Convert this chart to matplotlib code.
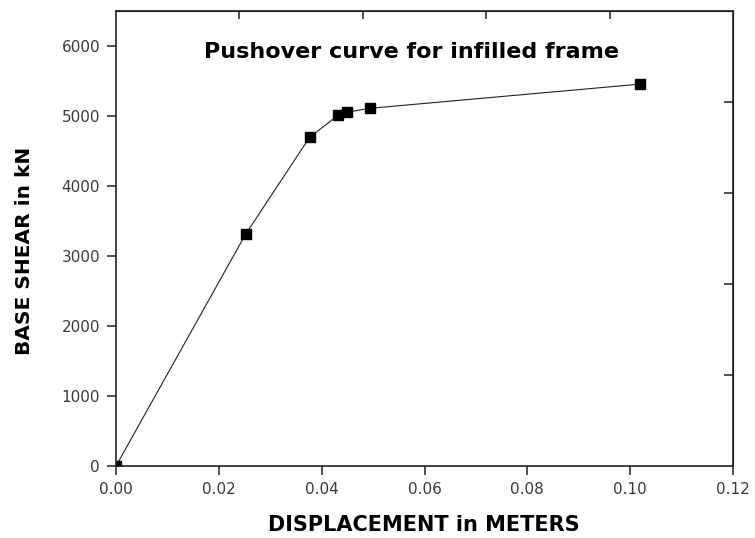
import numpy as np
import matplotlib.pyplot as plt

plt.rcParams['font.family'] = ['DejaVu Sans']

# pushover points: roof displacement (m) vs base shear (kN)
desplazamiento = [0.0, 0.0252, 0.0377, 0.0432, 0.0450, 0.0494, 0.1019]
cortante = [0, 3310, 4700, 5010, 5055, 5110, 5455]

xticks = [0.00, 0.02, 0.04, 0.06, 0.08, 0.10, 0.12]
yticks = [0, 1000, 2000, 3000, 4000, 5000, 6000]
# minor marks on the top and right frame
top_ticks = [0.024, 0.048, 0.072, 0.096]
right_ticks = [1300, 2600, 3900, 5200]

fig = plt.figure(figsize=(7.55, 5.38), dpi=100)
ax = fig.add_axes([116/755, 1 - 466/538, 617/755, 455/538])

ax.plot(desplazamiento, cortante, '-', color='#222222', lw=0.8,
        marker='s', ms=7.5, mfc='black', mec='black', clip_on=True)

ax.set_xlim(0, 0.12)
ax.set_ylim(0, 6500)
ax.set_xticks(xticks)
ax.set_xticklabels([f'{v:.2f}' for v in xticks])
ax.set_yticks(yticks)
ax.set_yticklabels([str(v) for v in yticks])

for s in ax.spines.values():
    s.set_linewidth(1.2)
    s.set_color('#222222')

ax.tick_params(direction='out', length=6.5, width=1.1, pad=5,
               labelsize=11, labelcolor='#3a3a3a', color='#222222')

sec_x = ax.secondary_xaxis('top')
sec_x.set_xticks(top_ticks)
sec_x.set_xticklabels([])
sec_x.tick_params(direction='in', length=6, width=1.1, color='#222222')
sec_y = ax.secondary_yaxis('right')
sec_y.set_yticks(right_ticks)
sec_y.set_yticklabels([])
sec_y.tick_params(direction='in', length=6.5, width=1.1, color='#222222')

ax.text(0.0574, 5914, 'Pushover curve for infilled frame', ha='center',
        va='center', fontsize=16, fontweight='bold', color='black')

fig.text(424/755, 1 - 525/538, 'DISPLACEMENT in METERS', ha='center',
         va='center', fontsize=15, fontweight='bold')
fig.text(25/755, 1 - 251/538, 'BASE SHEAR in kN', ha='center',
         va='center', rotation=90, fontsize=14.5, fontweight='bold')

fig.savefig('out.png', dpi=100)
